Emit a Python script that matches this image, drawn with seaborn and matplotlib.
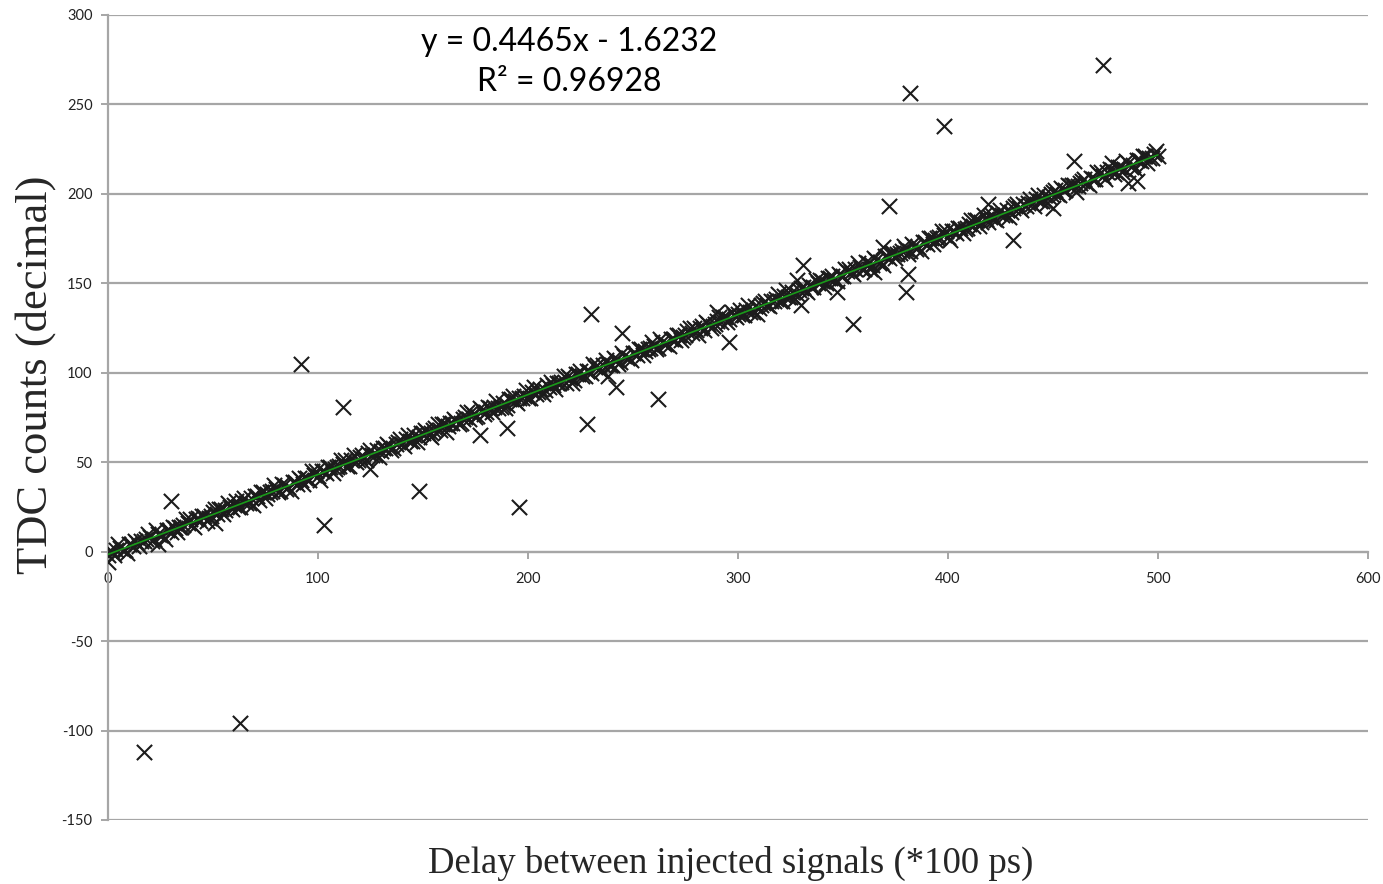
import numpy as np
import pandas as pd
import seaborn as sns
import matplotlib.pyplot as plt

# main band, even delays 0..500, TDC counts
delay_even = list(range(0, 502, 2))
counts_even = [
    -2, 0, 1, 2, 1, 4, 3, 5, 6, 7,
    8, 7, 10, 9, 12, 11, 13, 14, 15, 16,
    15, 18, 17, 20, 19, 22, 21, 24, 23, 25,
    26, 25, 28, 27, 30, 31, 29, 33, 32, 34,
    35, 34, 37, 36, 39, 38, 40, 41, 40, 43,
    42, 45, 44, 47, 46, 48, 49, 48, 51, 50,
    53, 52, 55, 54, 57, 56, 58, 59, 58, 61,
    60, 63, 62, 65, 64, 66, 67, 66, 69, 68,
    71, 70, 72, 73, 72, 75, 74, 77, 76, 79,
    78, 80, 81, 80, 83, 82, 85, 84, 86, 87,
    86, 89, 88, 91, 90, 92, 93, 94, 95, 94,
    97, 96, 99, 98, 101, 100, 103, 102, 104, 105,
    104, 107, 106, 109, 108, 111, 110, 113, 112, 114,
    115, 114, 117, 116, 119, 118, 121, 120, 123, 122,
    124, 125, 124, 127, 126, 129, 128, 131, 130, 132,
    133, 132, 135, 134, 137, 136, 139, 138, 140, 141,
    140, 143, 142, 145, 144, 147, 146, 149, 148, 150,
    151, 150, 153, 152, 155, 154, 157, 156, 158, 159,
    158, 161, 160, 163, 162, 165, 164, 167, 166, 168,
    169, 168, 171, 170, 173, 172, 175, 174, 176, 177,
    176, 179, 178, 181, 180, 183, 182, 185, 184, 186,
    187, 186, 189, 188, 191, 190, 193, 192, 194, 195,
    194, 197, 196, 199, 198, 201, 200, 203, 202, 204,
    205, 204, 207, 206, 209, 208, 211, 210, 212, 213,
    212, 215, 214, 217, 216, 219, 218, 221, 220, 222,
    221,
]

# main band, odd delays 1..499
delay_odd = list(range(1, 500, 2))
counts_odd = [
    1, -2, 4, 1, -1, 4, 6, 3, 6, 10,
    6, 12, 9, 7, 12, 14, 11, 14, 18, 18,
    14, 19, 20, 17, 20, 24, 24, 21, 27, 24,
    28, 25, 30, 27, 26, 31, 33, 30, 33, 37,
    33, 38, 35, 34, 39, 41, 38, 41, 45, 45,
    40, 45, 47, 44, 47, 51, 51, 48, 54, 51,
    54, 51, 57, 54, 53, 58, 60, 57, 60, 63,
    59, 65, 62, 61, 66, 68, 65, 68, 71, 71,
    67, 72, 74, 71, 74, 78, 78, 75, 80, 77,
    81, 78, 84, 81, 80, 85, 87, 83, 86, 90,
    86, 92, 89, 88, 93, 95, 91, 94, 98, 98,
    94, 99, 101, 98, 101, 105, 104, 101, 107, 104,
    108, 105, 111, 108, 107, 111, 113, 110, 113, 117,
    113, 119, 116, 115, 119, 121, 118, 121, 125, 125,
    121, 126, 128, 125, 127, 131, 131, 128, 134, 131,
    135, 132, 138, 134, 133, 138, 140, 137, 140, 144,
    140, 146, 142, 141, 146, 148, 145, 148, 152, 152,
    148, 153, 154, 151, 154, 158, 158, 155, 161, 158,
    162, 158, 164, 161, 160, 165, 167, 164, 167, 171,
    166, 172, 169, 168, 173, 175, 172, 175, 179, 179,
    174, 179, 181, 178, 181, 185, 185, 182, 188, 184,
    188, 185, 191, 188, 187, 192, 194, 191, 193, 197,
    193, 199, 196, 195, 200, 202, 199, 202, 205, 205,
    201, 206, 208, 205, 208, 212, 212, 208, 214, 211,
    215, 212, 218, 215, 214, 219, 221, 217, 220, 224,
]

# stray measurements away from the band
out_delay = [0, 17, 63, 24, 30, 51, 92, 103, 112, 125,
             148, 154, 177, 190, 196, 228, 230, 238, 242, 245,
             262, 290, 296, 328, 330, 331, 347, 355, 365, 369,
             372, 380, 381, 382, 398, 419, 431, 450, 460, 474,
             478, 486, 490]
out_counts = [-6, -112, -96, 4, 28, 16, 105, 15, 81, 46,
              34, 64, 65, 69, 25, 71, 133, 98, 92, 122,
              85, 134, 117, 152, 138, 160, 145, 127, 156, 170,
              193, 145, 155, 256, 238, 194, 174, 192, 218, 272,
              217, 206, 207]

# trend line as printed on the chart
fit_slope = 0.4465
fit_intercept = -1.6232
fit_r2 = 0.96928

df = pd.DataFrame({
    'delay': delay_even + delay_odd + out_delay,
    'counts': counts_even + counts_odd + out_counts,
})

sns.set_style("white")
plt.rcParams['axes.unicode_minus'] = False

fig = plt.figure(figsize=(13.83, 8.84), dpi=100)
ax = fig.add_axes([0.078, 0.0724, 0.911, 0.911])

sns.scatterplot(
    data=df,
    x='delay',
    y='counts',
    marker='x',
    color='#1c1c1c',
    s=120,
    linewidth=1.5,
    ax=ax,
    zorder=3,
)

fit_x = np.array([df['delay'].min(), df['delay'].max()])
sns.lineplot(x=fit_x, y=fit_slope * fit_x + fit_intercept,
             color='#1a9a1a', linewidth=1.2, ax=ax, zorder=4)

ax.set_xlim(0, 600)
ax.set_ylim(-150, 300)
ax.set_xticks(range(0, 601, 100))
ax.set_yticks(range(-150, 301, 50))

ax.grid(which='major', axis='y', color='#a6a6a6', linewidth=1.6)
ax.set_axisbelow(True)

for side in ['top', 'right']:
    ax.spines[side].set_visible(False)
ax.spines['left'].set_color('#a6a6a6')
ax.spines['left'].set_linewidth(1.6)
ax.spines['bottom'].set_position(('data', 0))
ax.spines['bottom'].set_color('#a6a6a6')
ax.spines['bottom'].set_linewidth(1.6)

ax.tick_params(axis='both', which='major', labelsize=10.5, colors='#a6a6a6',
               labelcolor='#222222', length=5, width=1.4, direction='out')
ax.tick_params(axis='x', pad=10, bottom=True)
ax.tick_params(axis='y', left=True, pad=6)
for lbl in ax.get_xticklabels() + ax.get_yticklabels():
    lbl.set_family('Lato')

ax.set_xlabel("Delay between injected signals (*100 ps)",
              fontsize=26.5, family='Liberation Serif')
ax.xaxis.set_label_coords(0.494, -0.032)
ax.xaxis.label.set_va('top')
ax.set_ylabel("TDC counts (decimal)", fontsize=32, family='Liberation Serif')
ax.yaxis.set_label_coords(-0.041, 0.553)

ax.text(0.366, 0.966, f"y = {fit_slope}x - {abs(fit_intercept)}",
        transform=ax.transAxes, ha='center', va='center',
        fontsize=23, family='Lato', color='black')
ax.text(0.366, 0.916, f"R² = {fit_r2}",
        transform=ax.transAxes, ha='center', va='center',
        fontsize=23, family='Lato', color='black')

plt.savefig("out.png", dpi=100, facecolor='white')
